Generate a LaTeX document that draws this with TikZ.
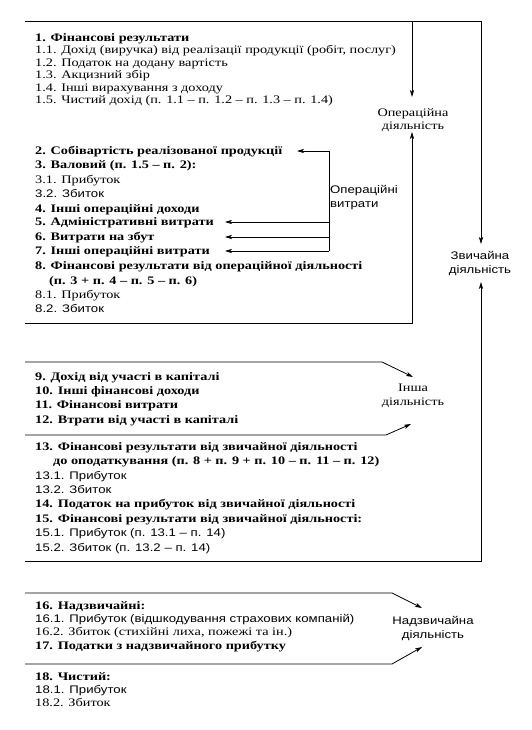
\documentclass[tikz,border=0pt]{standalone}
\usepackage{fontspec}
\setmainfont[FakeStretch=1.24]{Liberation Serif}
\newfontfamily\lsans[FakeStretch=1.2]{Liberation Sans}
\usetikzlibrary{arrows.meta}
\begin{document}
\begin{tikzpicture}[x=1pt,y=-1pt,
  ln/.style={line width=0.8pt},
  arr/.style={ln,-{Stealth[length=7pt,width=4.2pt,inset=1.8pt]}},
  row/.style={anchor=base west,inner sep=0pt,font=\fontsize{11.5}{12}\selectfont},
  brow/.style={anchor=base west,inner sep=0pt,font=\fontsize{11.5}{12}\selectfont\bfseries},
  srow/.style={anchor=base west,inner sep=0pt,font=\lsans\fontsize{11}{12}\selectfont},
  lab/.style={align=center,inner sep=0pt,font=\fontsize{11.5}{13.5}\selectfont},
  slab/.style={align=center,inner sep=0pt,font=\lsans\fontsize{11}{13.5}\selectfont}]
\useasboundingbox (0,0) rectangle (531,730);
\fill[white] (0,0) rectangle (531,730);
% ---- text rows
\node[brow] (r1) at (35,42) {1. Фінансові результати};
\node[row] (r11) at (35,54) {1.1. Дохід (виручка) від реалізації продукції (робіт, послуг)};
\node[row] (r12) at (35,66.5) {1.2. Податок на додану вартість};
\node[row] (r13) at (35,79) {1.3. Акцизний збір};
\node[row] (r14) at (35,91.2) {1.4. Інші вирахування з доходу};
\node[row] (r15) at (35,103.5) {1.5. Чистий дохід (п. 1.1 – п. 1.2 – п. 1.3 – п. 1.4)};
\node[brow] (r2) at (35,154.5) {2. Собівартість реалізованої продукції};
\node[brow] (r3) at (35,168.5) {3. Валовий (п. 1.5 – п. 2):};
\node[row] (r31) at (35,183) {3.1. Прибуток};
\node[srow] (r32) at (35,197.5) {3.2. Збиток};
\node[brow] (r4) at (35,212) {4. Інші операційні доходи};
\node[brow] (r5) at (35,225.5) {5. Адміністративні витрати};
\node[brow] (r6) at (35,240.5) {6. Витрати на збут};
\node[brow] (r7) at (35,254.5) {7. Інші операційні витрати};
\node[brow] (r8) at (35,269.5) {8. Фінансові результати від операційної діяльності};
\node[brow] (r8b) at (49,284) {(п. 3 + п. 4 – п. 5 – п. 6)};
\node[row] (r81) at (35,298.5) {8.1. Прибуток};
\node[srow] (r82) at (35,312.5) {8.2. Збиток};
\node[brow] (r9) at (35,380.5) {9. Дохід від участі в капіталі};
\node[brow] (r10) at (35,394.5) {10. Інші фінансові доходи};
\node[brow] (r11b) at (35,408.5) {11. Фінансові витрати};
\node[brow] (r12b) at (35,423) {12. Втрати від участі в капіталі};
\node[brow] (r13b) at (35,450.5) {13. Фінансові результати від звичайної діяльності};
\node[brow] (r13c) at (53,464.5) {до оподаткування (п. 8 + п. 9 + п. 10 – п. 11 – п. 12)};
\node[srow] (r131) at (35,479.5) {13.1. Прибуток};
\node[srow] (r132) at (35,493.5) {13.2. Збиток};
\node[brow] (r14b) at (35,507.5) {14. Податок на прибуток від звичайної діяльності};
\node[brow] (r15b) at (35,522) {15. Фінансові результати від звичайної діяльності:};
\node[srow] (r151) at (35,536.5) {15.1. Прибуток (п. 13.1 – п. 14)};
\node[srow] (r152) at (35,551.5) {15.2. Збиток (п. 13.2 – п. 14)};
\node[brow] (r16) at (35,609.5) {16. Надзвичайні:};
\node[srow] (r161) at (35,622.5) {16.1. Прибуток (відшкодування страхових компаній)};
\node[row] (r162) at (35,635.5) {16.2. Збиток (стихійні лиха, пожежі та ін.)};
\node[brow] (r17) at (35,649.5) {17. Податки з надзвичайного прибутку};
\node[brow] (r18) at (35,680.5) {18. Чистий:};
\node[srow] (r181) at (35,693.5) {18.1. Прибуток};
\node[row] (r182) at (35,706.5) {18.2. Збиток};
% ---- labels
\node[lab] (opd) at (413,120) {Операційна\\діяльність};
\node[slab] (zvd) at (480,263.5) {Звичайна\\діяльність};
\node[slab,align=left,anchor=west] (opv) at (330,197.5) {Операційні\\витрати};
\node[lab] (insh) at (413,396) {Інша\\діяльність};
\node[slab] (nadz) at (433,628.5) {Надзвичайна\\діяльність};
% ---- coordinates
\coordinate (tl) at (25,21); \coordinate (tm) at (412,21); \coordinate (tr) at (481,21);
\coordinate (zvT) at (481,244); \coordinate (opT) at (412,97);
\coordinate (b1l) at (25,323); \coordinate (b1r) at (412,323); \coordinate (opB) at (412,132);
\coordinate (bl) at (25,561); \coordinate (br) at (481,561); \coordinate (zvB) at (481,282);
\coordinate (i1l) at (25,362); \coordinate (i1r) at (382,362); \coordinate (iT) at (413,377);
\coordinate (i2l) at (25,435); \coordinate (i2r) at (386,435); \coordinate (iB) at (411,424);
\coordinate (n1l) at (25,593); \coordinate (n1r) at (392,593); \coordinate (nT) at (422,608);
\coordinate (n2l) at (25,664); \coordinate (n2r) at (392,664); \coordinate (nB) at (422,647);
\coordinate (brT) at (329,151); \coordinate (brB) at (329,251);
\coordinate (b5) at (329,222); \coordinate (b6) at (329,237);
\coordinate (a2) at (297,151); \coordinate (a5) at (225,222);
\coordinate (a6) at (225,237); \coordinate (a7) at (225,251);
% ---- connectors
\draw[ln] (tl) -- (tr);
\draw[arr] (tr) -- (zvT);
\draw[arr] (tm) -- (opT);
\draw[arr] (b1l) -- (b1r) -- (opB);
\draw[arr] (bl) -- (br) -- (zvB);
\draw[arr] (i1l) -- (i1r) -- (iT);
\draw[arr] (i2l) -- (i2r) -- (iB);
\draw[arr] (n1l) -- (n1r) -- (nT);
\draw[arr] (n2l) -- (n2r) -- (nB);
\draw[ln] (brT) -- (brB);
\draw[arr] (brT) -- (a2);
\draw[arr] (b5) -- (a5);
\draw[arr] (b6) -- (a6);
\draw[arr] (brB) -- (a7);
\end{tikzpicture}
\end{document}
